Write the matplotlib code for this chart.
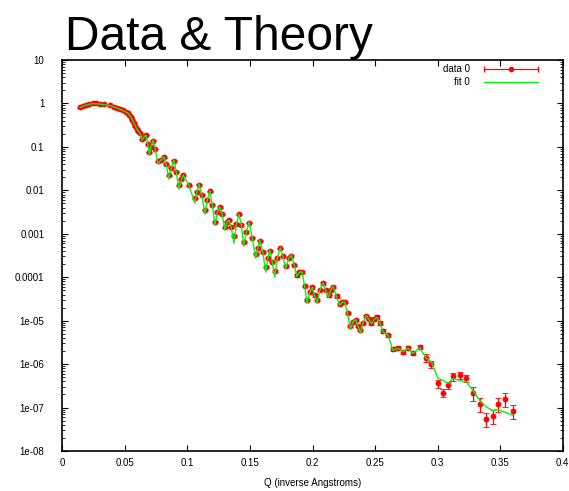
import matplotlib
matplotlib.use('Agg')
import matplotlib.pyplot as plt
import numpy as np

plt.rcParams['font.family'] = ['Liberation Sans', 'DejaVu Sans']

title = 'Data & Theory'
x_label = 'Q (inverse Angstroms)'
x_ticks = [0, 0.05, 0.1, 0.15, 0.2, 0.25, 0.3, 0.35, 0.4]
x_tick_labels = ['0', '0.05', '0.1', '0.15', '0.2', '0.25', '0.3', '0.35', '0.4']
y_ticks = [1e-8, 1e-7, 1e-6, 1e-5, 1e-4, 1e-3, 1e-2, 1e-1, 1, 10]
y_tick_labels = ['1e-08', '1e-07', '1e-06', '1e-05', '0.0001', '0.001', '0.01', '0.1', '1', '10']
series_names = ['data 0', 'fit 0']

q = [0.0141, 0.0188, 0.0244, 0.0300, 0.0380, 0.0436, 0.0484, 0.0524, 0.0548, 0.0572,
     0.0596, 0.0620, 0.0636, 0.0652, 0.0668, 0.0684, 0.0696, 0.0708, 0.0726, 0.0744,
     0.0764, 0.0788, 0.0812, 0.0831, 0.0851, 0.0871, 0.0891, 0.0911, 0.0931, 0.0951,
     0.0966, 0.1011, 0.1059, 0.1075, 0.1093, 0.1115, 0.1139, 0.1159, 0.1179, 0.1199,
     0.1219, 0.1239, 0.1259, 0.1279, 0.1299, 0.1315, 0.1331, 0.1351, 0.1371, 0.1391,
     0.1411, 0.1431, 0.1450, 0.1470, 0.1493, 0.1518, 0.1546, 0.1562, 0.1578, 0.1602,
     0.1626, 0.1642, 0.1658, 0.1678, 0.1698, 0.1718, 0.1742, 0.1762, 0.1786, 0.1810,
     0.1831, 0.1854, 0.1874, 0.1894, 0.1916, 0.1938, 0.1956, 0.1978, 0.1999, 0.2018,
     0.2036, 0.2058, 0.2084, 0.2105, 0.2129, 0.2145, 0.2164, 0.2193, 0.2217, 0.2237,
     0.2257, 0.2281, 0.2303, 0.2321, 0.2345, 0.2365, 0.2383, 0.2405, 0.2430, 0.2449,
     0.2470, 0.2493, 0.2515, 0.2537, 0.2563, 0.2603, 0.2643, 0.2683, 0.2723, 0.2763,
     0.2803, 0.2856, 0.2910, 0.2950, 0.3002, 0.3042, 0.3082, 0.3122, 0.3176, 0.3229,
     0.3282, 0.3335, 0.3389, 0.3442, 0.3482, 0.3535, 0.3601]

fit_i = [0.804, 0.918, 0.995, 0.969, 0.895, 0.783, 0.686, 0.601, 0.486, 0.353,
         0.257, 0.208, 0.143, 0.168, 0.187, 0.110, 0.0647, 0.104, 0.143, 0.0844,
         0.0402, 0.0497, 0.0592, 0.0381, 0.0181, 0.0325, 0.0497, 0.0262, 0.0107, 0.0172,
         0.0224, 0.0132, 0.00507, 0.0091, 0.0139, 0.00775, 0.00283, 0.00594, 0.00975, 0.00456,
         0.00158, 0.00315, 0.00417, 0.00269, 0.00121, 0.00185, 0.00206, 0.00135, 0.000607, 0.00166,
         0.00283, 0.00158, 0.000518, 0.00109, 0.00188, 0.000792, 0.000274, 0.000466, 0.000713, 0.000377,
         0.000130, 0.000274, 0.000419, 0.000222, 0.000100, 0.000274, 0.000479, 0.000305, 0.000161, 0.000274,
         0.000321, 0.000189, 0.000105, 0.000130, 0.000132, 5.89e-5, 2.52e-5, 4.51e-5, 5.89e-5, 3.65e-5,
         2.52e-5, 5.01e-5, 7.39e-5, 5.01e-5, 3.46e-5, 5.01e-5, 6.21e-5, 3.46e-5, 2.26e-5, 2.65e-5,
         2.70e-5, 1.40e-5, 6.33e-6, 9.19e-6, 1.06e-5, 7.43e-6, 5.20e-6, 9.19e-6, 1.33e-5, 1.08e-5,
         8.57e-6, 1.08e-5, 1.18e-5, 9.19e-6, 5.50e-6, 4.61e-6, 2.08e-6, 2.31e-6, 1.92e-6, 2.31e-6,
         1.77e-6, 2.40e-6, 1.36e-6, 1.12e-6, 4.71e-7, 4.24e-7, 3.61e-7, 4.64e-7, 4.24e-7, 3.87e-7,
         2.49e-7, 1.47e-7, 1.03e-7, 8.61e-8, 8.95e-8, 7.88e-8, 6.61e-8]

data_i = [0.82, 0.93, 1.00, 0.98, 0.90, 0.79, 0.69, 0.60, 0.49, 0.36,
          0.26, 0.21, 0.15, 0.17, 0.19, 0.115, 0.075, 0.10, 0.14, 0.09,
          0.047, 0.05, 0.058, 0.04, 0.022, 0.033, 0.048, 0.027, 0.013, 0.018,
          0.022, 0.013, 0.0065, 0.0093, 0.0135, 0.0080, 0.0036, 0.0060, 0.0095, 0.0047,
          0.0019, 0.0032, 0.0041, 0.0028, 0.0014, 0.0019, 0.0021, 0.0014, 0.00088, 0.0017,
          0.0028, 0.0016, 0.00065, 0.0011, 0.0018, 0.00082, 0.00035, 0.00048, 0.00070, 0.00038,
          0.00017, 0.00028, 0.00041, 0.00023, 0.00014, 0.00028, 0.00046, 0.00030, 0.00018, 0.00027,
          0.00031, 0.00019, 0.00011, 0.00013, 0.00013, 6.2e-5, 3.0e-5, 4.6e-5, 5.8e-5, 3.8e-5,
          3.0e-5, 5.0e-5, 7.2e-5, 5.0e-5, 3.8e-5, 5.0e-5, 6.0e-5, 3.6e-5, 2.4e-5, 2.7e-5,
          2.7e-5, 1.5e-5, 7.5e-6, 9.5e-6, 1.05e-5, 7.6e-6, 6.0e-6, 9.0e-6, 1.3e-5, 1.1e-5,
          8.8e-6, 1.1e-5, 1.2e-5, 9.0e-6, 5.8e-6, 4.6e-6, 2.2e-6, 2.4e-6, 1.9e-6, 2.4e-6,
          1.8e-6, 2.5e-6, 1.4e-6, 1.0e-6, 3.6e-7, 2.2e-7, 3.3e-7, 5.2e-7, 5.6e-7, 4.8e-7,
          2.2e-7, 1.2e-7, 5.5e-8, 6.5e-8, 1.2e-7, 1.6e-7, 8.5e-8]

rel_err = [0.02] * 30 + [0.04] * 40 + [0.06] * 30 + [0.10] * 12 + [0.20] * 8 + [0.35] * 7

# additional densely-sampled data points read at low Q
extra_q = [0.0165, 0.0215, 0.0272, 0.0335, 0.0410, 0.0460, 0.0505, 0.0536, 0.0560, 0.0584, 0.0608]
extra_i = [0.88, 0.97, 1.00, 0.96, 0.85, 0.74, 0.65, 0.55, 0.42, 0.30, 0.23]
extra_err = [0.02] * 11

RED = '#ff0000'
GREEN = '#11ee11'

fig = plt.figure(figsize=(5.69, 4.91), dpi=100)
W, H = 569.0, 491.0
ax = fig.add_axes([62.4 / W, 1 - 451 / H, 500.3 / W, 391 / H])
ax.set_yscale('log')
ax.set_xlim(0, 0.4)
ax.set_ylim(1e-8, 10)

all_q = list(q) + extra_q
all_i = list(data_i) + extra_i
all_err = np.array(all_i) * np.array(rel_err + extra_err)
ax.errorbar(all_q, all_i, yerr=all_err, fmt='o', color=RED, ms=3.6, capsize=2.2,
            elinewidth=0.9, capthick=0.9, mew=0.6, zorder=2)
ax.plot(q, fit_i, color=GREEN, lw=1.0, zorder=3)

ax.set_xticks(x_ticks)
ax.set_xticklabels(x_tick_labels)
ax.set_yticks(y_ticks)
ax.set_yticklabels(y_tick_labels)
ax.yaxis.set_minor_locator(matplotlib.ticker.LogLocator(base=10, subs=np.arange(2, 10), numticks=20))
ax.yaxis.set_minor_formatter(matplotlib.ticker.NullFormatter())
ax.tick_params(which='major', direction='in', top=True, right=True, length=4, width=0.8,
               labelsize=7, colors='black')
ax.tick_params(axis='x', which='major', pad=5)
ax.tick_params(axis='y', which='major', pad=13)
ax.tick_params(which='minor', direction='in', right=True, length=2, width=0.6)
for s in ax.spines.values():
    s.set_linewidth(1.2)

ax.set_xlabel(x_label, fontsize=7, labelpad=7)

fig.text(65 / W, 1 - 50 / H, title, fontsize=34.5, ha='left', va='baseline')

# legend (gnuplot style)
tr = ax.transAxes
lx0, lx1 = (484 - 62.4) / 500.3, (538 - 62.4) / 500.3
ly0, ly1 = (451 - 69.3) / 391, (451 - 81.7) / 391
tx = (470 - 62.4) / 500.3
ax.text(tx, ly0, series_names[0], transform=tr, ha='right', va='center', fontsize=7)
ax.text(tx, ly1, series_names[1], transform=tr, ha='right', va='center', fontsize=7)
ax.plot([lx0, lx1], [ly0, ly0], transform=tr, color=RED, lw=0.9)
ax.plot([lx0, lx1], [ly0, ly0], transform=tr, color=RED, lw=0, marker='|', ms=5, mew=0.9)
ax.plot([(lx0 + lx1) / 2], [ly0], transform=tr, color=RED, marker='o', ms=3)
ax.plot([lx0, lx1], [ly1, ly1], transform=tr, color=GREEN, lw=1.0)

fig.savefig('out.png', dpi=100)
